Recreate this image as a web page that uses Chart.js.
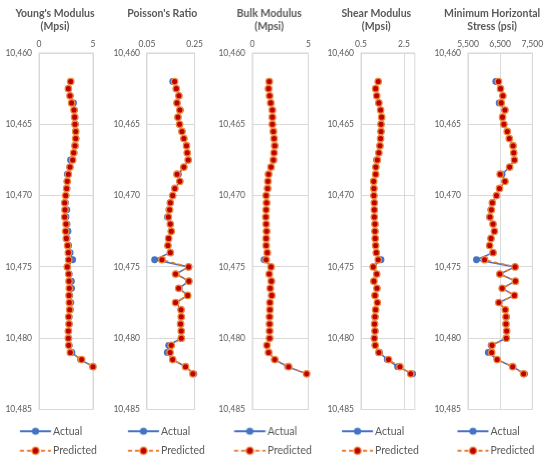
<!DOCTYPE html>
<html>
<head>
<meta charset="utf-8">
<script src="https://cdn.jsdelivr.net/npm/chart.js@4.4.1/dist/chart.umd.min.js"></script>
<style>
  html, body { margin: 0; padding: 0; background: #fff; overflow: hidden; }
  #wrap { position: relative; width: 550px; height: 465px; overflow: hidden; }
  .panel { position: absolute; top: 0; height: 466px; }
</style>
</head>
<body>
<div id="wrap"></div>
<script>
// ---------------------------------------------------------
// Data: depth (ft) shared by every track
// ---------------------------------------------------------
const depths = [10462, 10462.5, 10463, 10463.5, 10464, 10464.5, 10465, 10465.5, 10466, 10466.5,
  10467, 10467.5, 10468, 10468.5, 10469, 10469.5, 10470, 10470.5, 10471, 10471.5,
  10472, 10472.5, 10473, 10473.5, 10474, 10474.5, 10475, 10475.5, 10476, 10476.5,
  10477, 10477.5, 10478, 10478.5, 10479, 10479.5, 10480, 10480.5, 10481, 10481.5,
  10482, 10482.5];
const depthTicks = [10460, 10465, 10470, 10475, 10480, 10485];
const depthLabels = ["10,460", "10,465", "10,470", "10,475", "10,480", "10,485"];

const youngsActual = [2.95, 2.74, 2.89, 3.20, 3.28, 3.33, 3.38, 3.40, 3.42, 3.35,
  3.25, 2.92, 2.85, 2.62, 2.60, 2.58, 2.50, 2.45, 2.58, 2.50,
  2.60, 2.68, 2.60, 2.75, 2.88, 3.12, 2.65, 2.80, 3.00, 3.02,
  2.85, 2.95, 2.90, 2.80, 2.80, 2.75, 2.75, 2.80, 3.05, 3.85, 4.98];
const youngsPredicted = [2.93, 2.72, 2.87, 3.02, 3.24, 3.30, 3.33, 3.40, 3.40, 3.33,
  3.21, 3.12, 2.87, 2.72, 2.62, 2.56, 2.47, 2.38, 2.41, 2.38,
  2.50, 2.47, 2.53, 2.65, 2.72, 2.75, 2.62, 2.75, 2.78, 2.81,
  2.78, 2.81, 2.84, 2.75, 2.78, 2.72, 2.72, 2.75, 2.90, 3.95, 5.0];
const youngsTicks = [0, 5];
const youngsTickLabels = ["0", "5"];

const poissonActual = [0.158, 0.173, 0.184, 0.176, 0.190, 0.180, 0.187, 0.197, 0.205, 0.216,
  0.219, 0.223, 0.205, 0.182, 0.188, 0.167, 0.158, 0.148, 0.142, 0.136,
  0.148, 0.152, 0.141, 0.138, 0.148, 0.082, 0.225, 0.172, 0.226, 0.185,
  0.221, 0.172, 0.193, 0.194, 0.191, 0.194, 0.194, 0.141, 0.135, 0.158, 0.212, 0.247];
const poissonPredicted = [0.166, 0.173, 0.184, 0.176, 0.188, 0.180, 0.187, 0.197, 0.205, 0.216,
  0.219, 0.223, 0.205, 0.176, 0.188, 0.167, 0.158, 0.148, 0.145, 0.140,
  0.148, 0.152, 0.141, 0.138, 0.148, 0.113, 0.225, 0.170, 0.226, 0.183,
  0.221, 0.170, 0.193, 0.194, 0.191, 0.194, 0.194, 0.152, 0.147, 0.158, 0.212, 0.243];
const poissonTicks = [0.05, 0.25];
const poissonTickLabels = ["0.05", "0.25"];

const bulkActual = [1.51, 1.45, 1.56, 1.66, 1.79, 1.79, 1.80, 1.88, 1.95, 2.00,
  1.94, 1.90, 1.67, 1.45, 1.39, 1.36, 1.25, 1.27, 1.23, 1.22,
  1.23, 1.27, 1.25, 1.23, 1.33, 1.05, 1.67, 1.51, 1.70, 1.60,
  1.73, 1.57, 1.57, 1.54, 1.54, 1.54, 1.54, 1.30, 1.48, 2.00, 3.15, 4.85];
const bulkPredicted = [1.51, 1.45, 1.54, 1.64, 1.79, 1.79, 1.79, 1.88, 1.94, 2.00,
  1.94, 1.88, 1.67, 1.45, 1.39, 1.36, 1.23, 1.27, 1.23, 1.20,
  1.23, 1.27, 1.23, 1.23, 1.33, 1.23, 1.67, 1.51, 1.70, 1.60,
  1.73, 1.57, 1.57, 1.54, 1.54, 1.54, 1.54, 1.30, 1.45, 2.00, 3.24, 4.85];
const bulkTicks = [0, 5];
const bulkTickLabels = ["0", "5"];

const shearActual = [1.30, 1.18, 1.23, 1.33, 1.41, 1.46, 1.43, 1.43, 1.41, 1.38,
  1.33, 1.22, 1.19, 1.18, 1.09, 1.10, 1.10, 1.12, 1.12, 1.12,
  1.15, 1.15, 1.16, 1.18, 1.21, 1.43, 1.07, 1.23, 1.10, 1.24,
  1.15, 1.26, 1.18, 1.15, 1.13, 1.15, 1.12, 1.16, 1.36, 1.72, 2.20, 2.90];
const shearPredicted = [1.30, 1.18, 1.23, 1.33, 1.41, 1.46, 1.43, 1.43, 1.41, 1.38,
  1.33, 1.26, 1.19, 1.18, 1.09, 1.10, 1.10, 1.12, 1.12, 1.12,
  1.15, 1.15, 1.16, 1.18, 1.21, 1.30, 1.07, 1.23, 1.10, 1.24,
  1.15, 1.26, 1.18, 1.15, 1.13, 1.15, 1.12, 1.16, 1.33, 1.78, 2.31, 2.81];
const shearTicks = [0.5, 2.5];
const shearTickLabels = ["0.5", "2.5"];

const stressActual = [6364, 6512, 6585, 6469, 6649, 6575, 6617, 6722, 6786, 6902,
  6923, 6944, 6796, 6560, 6649, 6480, 6385, 6258, 6210, 6170,
  6279, 6322, 6216, 6174, 6279, 5763, 6965, 6490, 6975, 6564,
  6944, 6459, 6660, 6700, 6681, 6702, 6691, 6220, 6131, 6406, 6891, 7260];
const stressPredicted = [6448, 6512, 6585, 6533, 6649, 6575, 6617, 6722, 6786, 6902,
  6923, 6944, 6796, 6501, 6649, 6480, 6385, 6258, 6227, 6184,
  6279, 6322, 6216, 6174, 6279, 6016, 6965, 6490, 6975, 6564,
  6944, 6459, 6660, 6681, 6681, 6702, 6691, 6248, 6237, 6406, 6891, 7229];
const stressTicks = [5500, 6500, 7500];
const stressTickLabels = ["5,500", "6,500", "7,500"];

// ---------------------------------------------------------
// Track layout (px in the 550x465 picture)
// ---------------------------------------------------------
const tracks = [
  { title: ["Young's Modulus", "(Mpsi)"], actual: youngsActual, predicted: youngsPredicted,
    min: 0, max: 5, ticks: youngsTicks, labels: youngsTickLabels,
    left: 3, plotLeft: 39, plotRight: 93, right: 107, shift: 0 },
  { title: ["Poisson's Ratio"], actual: poissonActual, predicted: poissonPredicted,
    min: 0.05, max: 0.25, ticks: poissonTicks, labels: poissonTickLabels,
    left: 110.7, plotLeft: 146.7, plotRight: 194.3, right: 213.3, shift: 0 },
  { title: ["Bulk Modulus", "(Mpsi)"], actual: bulkActual, predicted: bulkPredicted,
    min: 0, max: 5, ticks: bulkTicks, labels: bulkTickLabels,
    left: 216.3, plotLeft: 252.3, plotRight: 307.7, right: 321.7, shift: 1 },
  { title: ["Shear Modulus", "(Mpsi)"], actual: shearActual, predicted: shearPredicted,
    min: 0.5, max: 3.0, ticks: shearTicks, labels: shearTickLabels,
    left: 324.7, plotLeft: 360.7, plotRight: 414.5, right: 427.3, shift: 0 },
  { title: ["Minimum Horizontal", "Stress (psi)"], actual: stressActual, predicted: stressPredicted,
    min: 5500, max: 7500, ticks: stressTicks, labels: stressTickLabels,
    left: 431.7, plotLeft: 467.7, plotRight: 532, right: 552, shift: 8.5 }
];

const TEXT = "#595959";
const GRID = "#d9d9d9";
const PLOT_TOP = 53;
const TITLE_SIZE = 10.5, TITLE_LH = 1.22, TITLE_PAD = 7;
Chart.defaults.font.family = "Lato, 'Open Sans', sans-serif";
Chart.defaults.color = TEXT;

// border round the plot area (Excel draws it on every side)
const plotBorder = {
  id: "plotBorder",
  beforeDatasetsDraw(chart) {
    const { ctx, chartArea: a } = chart;
    ctx.save();
    ctx.strokeStyle = GRID;
    ctx.lineWidth = 1;
    ctx.strokeRect(a.left, a.top, a.right - a.left, a.bottom - a.top);
    ctx.restore();
  }
};

// legend symbol: short line with the marker in the middle
function legendSymbol(ds, a, b, bw) {
  const c = bw / 2;
  const half = Math.ceil(Math.max(c - a, b - c)) + 1;
  const cv = document.createElement("canvas");
  cv.width = half * 2;
  cv.height = 12;
  const g = cv.getContext("2d");
  const x1 = half + (a - c), x2 = half + (b - c), xm = (x1 + x2) / 2;
  g.strokeStyle = ds.borderColor;
  g.lineWidth = 2;
  g.setLineDash(ds.borderDash || []);
  g.beginPath(); g.moveTo(x1, 6); g.lineTo(x2, 6); g.stroke();
  g.setLineDash([]);
  g.beginPath(); g.arc(xm, 6, 3.6, 0, Math.PI * 2);
  g.fillStyle = ds.pointBackgroundColor; g.fill();
  if (ds.pointBorderWidth) {
    g.lineWidth = ds.pointBorderWidth; g.strokeStyle = ds.pointBorderColor; g.stroke();
  }
  return cv;
}

const toPoints = vals => vals.map((v, i) => ({ x: v, y: depths[i] }));

tracks.forEach(t => {
  const box = document.createElement("div");
  box.className = "panel";
  box.style.left = t.left + "px";
  box.style.width = (t.right - t.left) + "px";
  const canvas = document.createElement("canvas");
  box.appendChild(canvas);
  document.getElementById("wrap").appendChild(box);

  const actualDs = {
    label: "Actual", data: toPoints(t.actual), showLine: true, order: 1, clip: false,
    borderColor: "#4472C4", backgroundColor: "#4472C4", borderWidth: 1.5,
    pointRadius: 3.4, pointBackgroundColor: "#4472C4", pointBorderColor: "#4472C4", pointBorderWidth: 0
  };
  const predictedDs = {
    label: "Predicted", data: toPoints(t.predicted), showLine: true, order: 0, clip: false,
    borderColor: "#ED7D31", backgroundColor: "#ED7D31", borderWidth: 1.5, borderDash: [4, 3],
    pointRadius: 3.2, pointBackgroundColor: "#C00000", pointBorderColor: "#F08A3C", pointBorderWidth: 1.3
  };

  // legend geometry, relative to the legend start
  const bw = 35.75 + t.shift;
  const lineStart = 8 + t.shift, lineEnd = 39 + t.shift;
  const titleHeight = TITLE_PAD + t.title.length * TITLE_SIZE * TITLE_LH;

  new Chart(canvas, {
    type: "scatter",
    data: { datasets: [actualDs, predictedDs] },
    plugins: [plotBorder],
    options: {
      responsive: true,
      maintainAspectRatio: false,
      animation: false,
      plugins: {
        title: {
          display: true, text: t.title, color: TEXT,
          font: { size: TITLE_SIZE, weight: "bold", lineHeight: TITLE_LH },
          padding: { top: TITLE_PAD, bottom: 0 }
        },
        legend: {
          position: "bottom", align: "start",
          title: { display: true, text: "", font: { size: 7.5, lineHeight: 1 }, padding: 0 },
          labels: {
            usePointStyle: true, pointStyleWidth: bw, padding: 9, color: TEXT,
            font: { size: 10.5 },
            sort: (a, b) => a.datasetIndex - b.datasetIndex,
            generateLabels: chart => Chart.defaults.plugins.legend.labels.generateLabels(chart).map(item => {
              const ds = chart.data.datasets[item.datasetIndex];
              item.pointStyle = legendSymbol(ds, lineStart, lineEnd, bw);
              return item;
            })
          }
        },
        tooltip: { enabled: false }
      },
      scales: {
        x: {
          type: "linear", position: "top", min: t.min, max: t.max,
          afterBuildTicks: s => { s.ticks = t.ticks.map(v => ({ value: v })); },
          afterFit: s => { s.height = PLOT_TOP - titleHeight; },
          ticks: { callback: (v, i) => t.labels[i], color: TEXT, font: { size: 8.5 }, padding: 3.5, maxRotation: 0, autoSkip: false },
          grid: { color: GRID, drawTicks: false },
          border: { display: false }
        },
        y: {
          type: "linear", reverse: true, min: 10460, max: 10485,
          afterBuildTicks: s => { s.ticks = depthTicks.map(v => ({ value: v })); },
          afterFit: s => { s.width = t.plotLeft - t.left; },
          ticks: { callback: (v, i) => depthLabels[i], color: TEXT, font: { size: 8.5 }, padding: 7, autoSkip: false },
          grid: { color: GRID, drawTicks: false },
          border: { display: false }
        },
        // empty strip on the right so the plot area ends where the picture's does
        pad: {
          type: "linear", position: "right", display: true,
          afterFit: s => { s.width = t.right - t.plotRight; },
          ticks: { display: false },
          grid: { display: false, drawTicks: false },
          border: { display: false }
        }
      }
    }
  });
});
</script>
</body>
</html>
